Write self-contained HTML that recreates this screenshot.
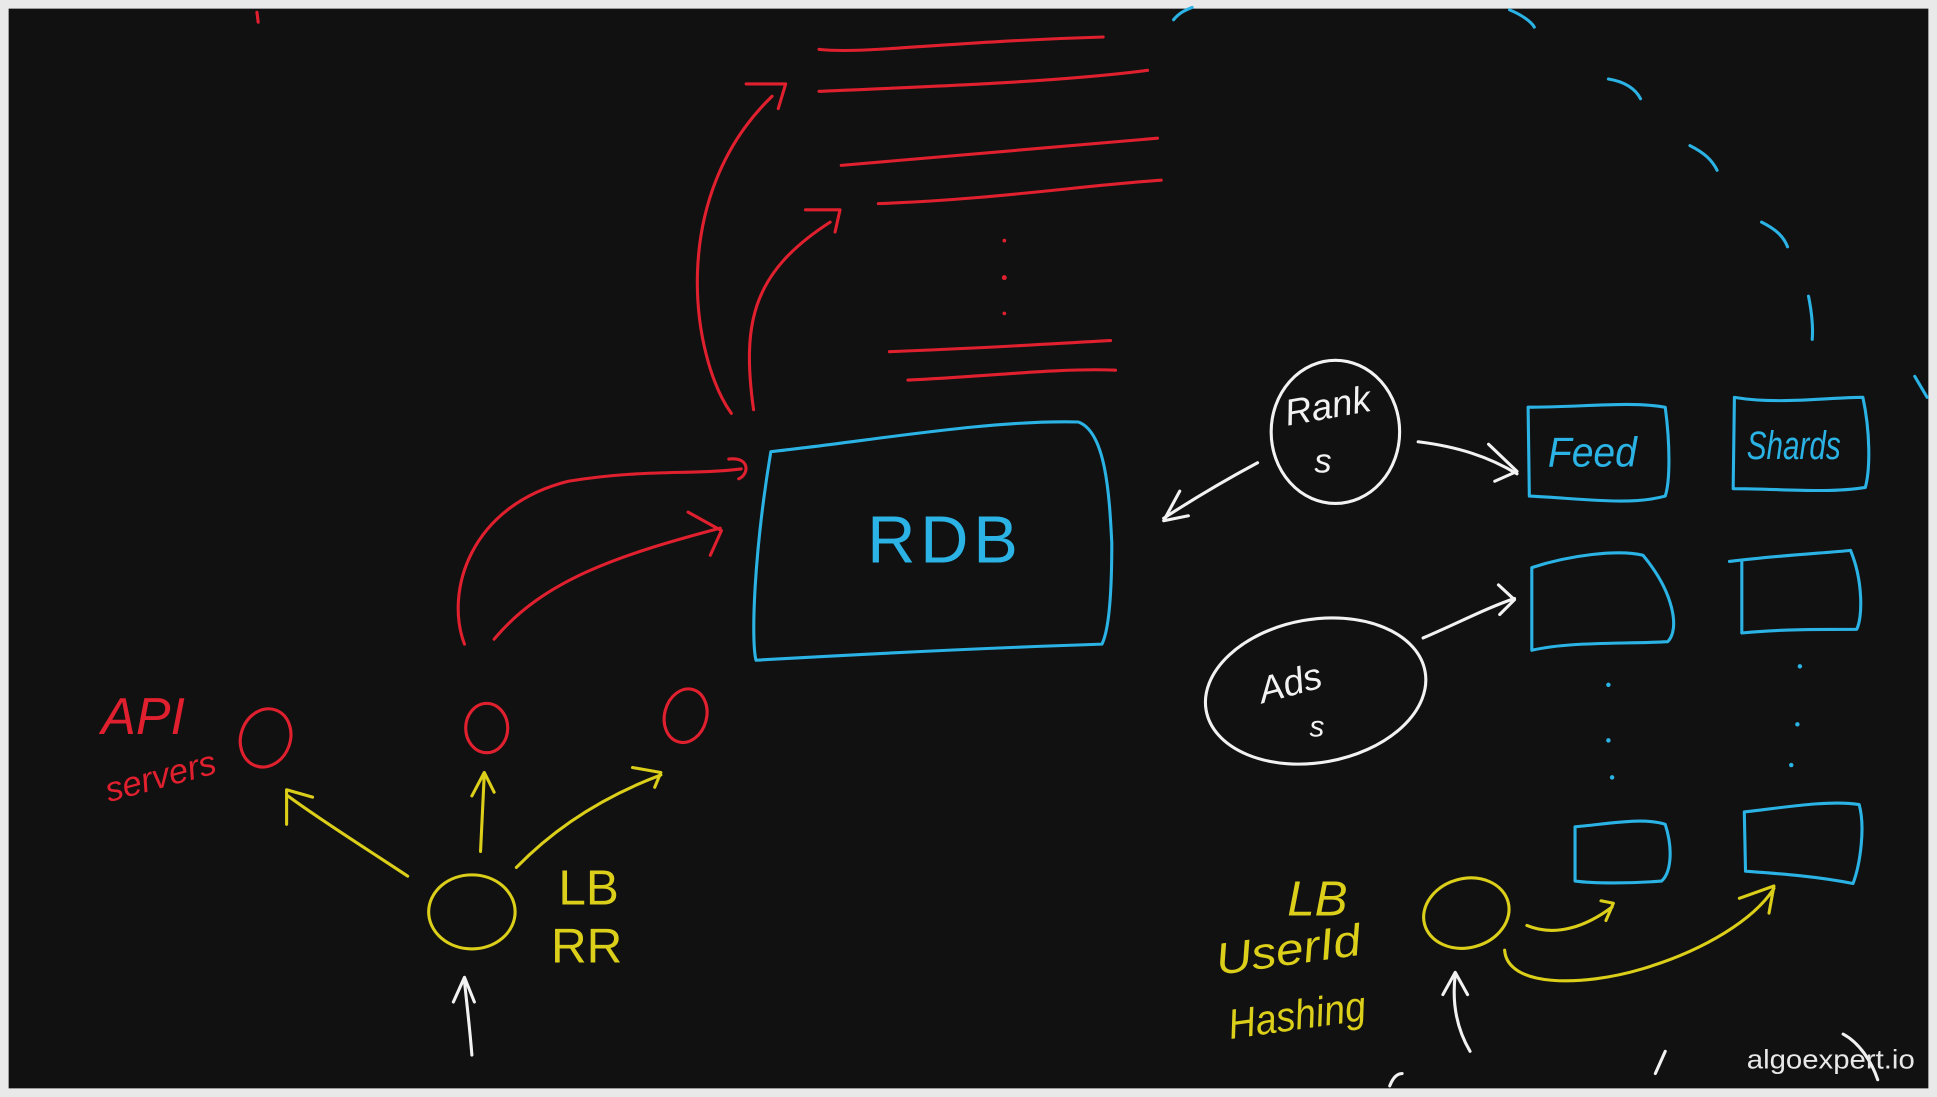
<!DOCTYPE html>
<html><head><meta charset="utf-8"><style>
html,body{margin:0;padding:0;background:#e8e8e8;}
svg{display:block}
</style></head><body>
<svg width="1937" height="1097" viewBox="0 0 1568 889" preserveAspectRatio="none" xmlns="http://www.w3.org/2000/svg">
<rect x="0" y="0" width="1568" height="889" fill="#e9e9e9"/>
<rect x="7" y="7" width="1554" height="875" fill="#111111"/>
<g fill="none" stroke-linecap="round" stroke-linejoin="round" stroke-width="2.5">
<g stroke="#e0202e">
<path d="M208 10 L209 18"/>
<path d="M663 40 C700 44 760 34 893 30"/>
<path d="M663 74 C760 70 860 66 929 57"/>
<path d="M681 134 C780 126 860 118 937 112"/>
<path d="M711 165 C800 162 880 150 940 146"/>
<path d="M720 285 C800 282 860 278 899 276"/>
<path d="M735 308 C800 305 860 298 903 300"/>
<path d="M592 335 C560 290 540 160 625 78"/>
<path d="M604 68 L636 68 L630 88"/>
<path d="M610 332 C600 260 610 220 672 180"/>
<path d="M652 170 L680 170 L676 188"/>
<path d="M376 522 C360 480 380 410 460 390 C520 380 560 385 600 380"/>
<path d="M590 372 C608 370 606 385 598 388"/>
<path d="M400 518 C440 470 500 450 583 428"/>
<path d="M557 415 L584 430 L575 450"/>
<ellipse cx="215" cy="598" rx="20" ry="24" transform="rotate(20 215 598)"/>
<ellipse cx="394" cy="590" rx="17" ry="20"/>
<ellipse cx="555" cy="580" rx="17" ry="22" transform="rotate(15 555 580)"/>
</g>
<text x="82" y="595" font-family="Liberation Sans, sans-serif" font-size="42" font-style="italic" fill="#e0202e" stroke="none">API</text>
<text x="88" y="650" font-family="Liberation Sans, sans-serif" font-size="28" font-style="italic" fill="#e0202e" stroke="none" transform="rotate(-15 88 650)">servers</text>
<g fill="#e0202e" stroke="none"><circle cx="813" cy="195" r="1.5"/><circle cx="813" cy="225" r="2"/><circle cx="813" cy="254" r="1.5"/></g>
<g stroke="#2ab3e4">
<path d="M624 366 C700 358 800 340 873 342 C895 350 898 400 900 440 C900 480 898 510 892 522 C800 525 700 530 612 535 C608 520 610 450 624 366 Z"/>
<path d="M1237 330 C1280 330 1320 325 1348 330 C1352 360 1352 390 1348 402 C1320 410 1280 404 1238 402 Z"/>
<path d="M1404 322 C1440 328 1480 322 1508 322 C1514 350 1514 380 1510 395 C1480 400 1440 396 1403 396 Z"/>
<path d="M1240 460 C1270 450 1310 445 1330 450 C1355 480 1360 510 1350 520 C1310 522 1270 520 1240 527 Z"/>
<path d="M1400 455 C1440 450 1480 448 1498 446 C1508 470 1508 500 1503 510 C1470 510 1440 510 1410 513 C1410 490 1410 470 1410 455"/>
<path d="M1275 670 C1300 668 1330 662 1348 668 C1355 690 1352 708 1345 714 C1320 716 1290 716 1275 714 Z"/>
<path d="M1412 658 C1440 655 1480 648 1505 652 C1510 670 1506 700 1500 716 C1470 710 1440 708 1413 706 Z"/>
<path d="M950 16 C955 10 960 8 965 6"/><path d="M1222 8 C1232 12 1240 18 1242 22"/>
<path d="M1302 64 C1315 66 1324 72 1328 80"/>
<path d="M1368 118 C1380 124 1386 130 1390 138"/>
<path d="M1426 180 C1438 186 1444 192 1447 200"/>
<path d="M1464 240 C1466 250 1468 262 1467 275"/>
<path d="M1550 305 L1560 322"/>
</g>
<g fill="#2ab3e4" stroke="none"><circle cx="1302" cy="555" r="1.8"/><circle cx="1302" cy="600" r="1.8"/><circle cx="1305" cy="630" r="1.8"/><circle cx="1457" cy="540" r="1.8"/><circle cx="1455" cy="587" r="1.8"/><circle cx="1450" cy="620" r="1.8"/></g>
<g font-family="Liberation Sans, sans-serif" fill="#2ab3e4" stroke="none">
<text x="702" y="456" font-size="54" textLength="122" lengthAdjust="spacing">RDB</text>
<text x="1253" y="378" font-size="34" font-style="italic" textLength="72" lengthAdjust="spacingAndGlyphs">Feed</text>
<text x="1414" y="372" font-size="32" font-style="italic" textLength="76" lengthAdjust="spacingAndGlyphs">Shards</text>
</g>
<g stroke="#f2f2f2">
<ellipse cx="1081" cy="350" rx="52" ry="58"/>
<ellipse cx="1065" cy="560" rx="90" ry="58" transform="rotate(-10 1065 560)"/>
<path d="M1018 375 C990 390 965 405 942 420"/>
<path d="M955 398 L942 422 L962 418"/>
<path d="M1148 358 C1180 362 1205 370 1228 384"/>
<path d="M1205 360 L1228 382 L1210 390"/>
<path d="M1152 517 C1180 505 1205 492 1226 485"/>
<path d="M1213 474 L1226 486 L1214 498"/>
<path d="M382 855 C380 830 378 815 376 795"/><path d="M367 812 L376 792 L384 812"/>
<path d="M1190 852 C1180 835 1175 815 1178 790"/><path d="M1168 806 L1178 788 L1188 806"/>
<path d="M1340 870 L1348 852"/><path d="M1492 838 C1505 845 1515 860 1520 875"/>
<path d="M1125 880 C1128 872 1132 870 1135 870"/>
</g>
<g font-family="Liberation Sans, sans-serif" fill="#f2f2f2" stroke="none" font-style="italic">
<text x="1042" y="345" font-size="30" transform="rotate(-10 1042 345)">Rank</text>
<text x="1064" y="383" font-size="28">s</text>
<text x="1022" y="570" font-size="30" transform="rotate(-15 1022 570)">Ads</text>
<text x="1060" y="597" font-size="24">s</text>
</g>
<text x="1414" y="866" font-family="Liberation Sans, sans-serif" font-size="22" fill="#e8e8e8" stroke="none" textLength="136" lengthAdjust="spacingAndGlyphs">algoexpert.io</text>
<g stroke="#dccf1a">
<ellipse cx="382" cy="739" rx="35" ry="30"/>
<ellipse cx="1187" cy="740" rx="35" ry="28" transform="rotate(-15 1187 740)"/>
<path d="M330 710 C300 690 260 665 233 645"/><path d="M232 668 L232 640 L253 646"/>
<path d="M389 690 L392 628"/><path d="M382 645 L392 626 L400 642"/>
<path d="M418 703 C450 670 490 645 535 628"/><path d="M512 622 L535 626 L530 638"/>
<path d="M1236 750 C1260 760 1285 750 1305 735"/><path d="M1296 730 L1306 732 L1300 746"/>
<path d="M1218 770 C1220 800 1280 800 1330 785 C1380 770 1420 745 1436 720"/><path d="M1408 728 L1436 718 L1432 740"/>
</g>
<g font-family="Liberation Sans, sans-serif" fill="#dccf1a" stroke="none">
<text x="452" y="733" font-size="40">LB</text>
<text x="446" y="780" font-size="40">RR</text>
<text x="1042" y="742" font-size="40" font-style="italic">LB</text>
<text x="986" y="790" font-size="36" font-style="italic" transform="rotate(-8 986 790)" textLength="118" lengthAdjust="spacingAndGlyphs">UserId</text>
<text x="996" y="842" font-size="34" font-style="italic" transform="rotate(-8 996 842)" textLength="112" lengthAdjust="spacingAndGlyphs">Hashing</text>
</g>
</g>
</svg>
</body></html>
